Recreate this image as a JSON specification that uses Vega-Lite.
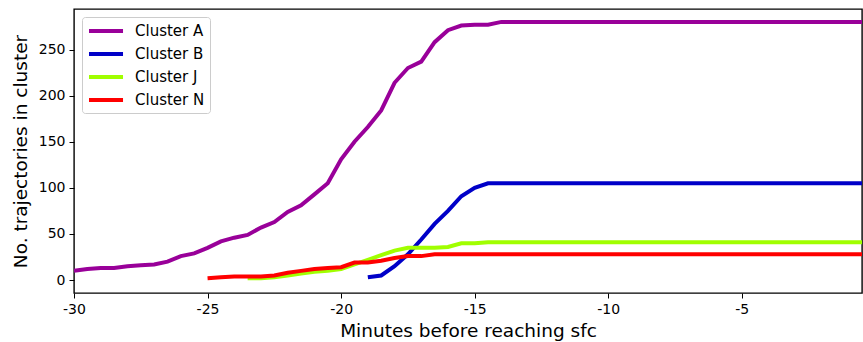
{
  "$schema": "https://vega.github.io/schema/vega-lite/v6.json",
  "width": 788,
  "height": 284,
  "autosize": {"type": "none"},
  "padding": {"left": 74, "top": 9, "right": 1, "bottom": 49},
  "config": {
    "font": "DejaVu Sans",
    "view": {"stroke": "black", "strokeWidth": 1.4},
    "axis": {
      "grid": false,
      "domain": false,
      "labelFlush": false,
      "tickColor": "black",
      "tickSize": 5,
      "tickWidth": 1,
      "labelColor": "black",
      "labelFontSize": 14,
      "labelFont": "DejaVu Sans",
      "titleFont": "DejaVu Sans",
      "titleFontSize": 18.5,
      "titleFontWeight": "normal",
      "titleColor": "black"
    }
  },
  "data": {
    "values": [
      {"t": -30, "n": 10, "c": "Cluster A"},
      {"t": -29.5, "n": 12, "c": "Cluster A"},
      {"t": -29, "n": 13, "c": "Cluster A"},
      {"t": -28.5, "n": 13, "c": "Cluster A"},
      {"t": -28, "n": 15, "c": "Cluster A"},
      {"t": -27.5, "n": 16, "c": "Cluster A"},
      {"t": -27, "n": 17, "c": "Cluster A"},
      {"t": -26.5, "n": 20, "c": "Cluster A"},
      {"t": -26, "n": 26, "c": "Cluster A"},
      {"t": -25.5, "n": 29, "c": "Cluster A"},
      {"t": -25, "n": 35, "c": "Cluster A"},
      {"t": -24.5, "n": 42, "c": "Cluster A"},
      {"t": -24, "n": 46, "c": "Cluster A"},
      {"t": -23.5, "n": 49, "c": "Cluster A"},
      {"t": -23, "n": 57, "c": "Cluster A"},
      {"t": -22.5, "n": 63, "c": "Cluster A"},
      {"t": -22, "n": 74, "c": "Cluster A"},
      {"t": -21.5, "n": 81, "c": "Cluster A"},
      {"t": -21, "n": 93, "c": "Cluster A"},
      {"t": -20.5, "n": 105, "c": "Cluster A"},
      {"t": -20, "n": 131, "c": "Cluster A"},
      {"t": -19.5, "n": 150, "c": "Cluster A"},
      {"t": -19, "n": 166, "c": "Cluster A"},
      {"t": -18.5, "n": 184, "c": "Cluster A"},
      {"t": -18, "n": 214, "c": "Cluster A"},
      {"t": -17.5, "n": 230, "c": "Cluster A"},
      {"t": -17, "n": 237, "c": "Cluster A"},
      {"t": -16.5, "n": 258, "c": "Cluster A"},
      {"t": -16, "n": 271, "c": "Cluster A"},
      {"t": -15.5, "n": 276, "c": "Cluster A"},
      {"t": -15, "n": 277, "c": "Cluster A"},
      {"t": -14.5, "n": 277, "c": "Cluster A"},
      {"t": -14, "n": 280, "c": "Cluster A"},
      {"t": -0.5, "n": 280, "c": "Cluster A"},
      {"t": -19, "n": 3, "c": "Cluster B"},
      {"t": -18.5, "n": 5, "c": "Cluster B"},
      {"t": -18, "n": 15, "c": "Cluster B"},
      {"t": -17.5, "n": 28, "c": "Cluster B"},
      {"t": -17, "n": 44, "c": "Cluster B"},
      {"t": -16.5, "n": 61, "c": "Cluster B"},
      {"t": -16, "n": 75, "c": "Cluster B"},
      {"t": -15.5, "n": 91, "c": "Cluster B"},
      {"t": -15, "n": 100, "c": "Cluster B"},
      {"t": -14.5, "n": 105, "c": "Cluster B"},
      {"t": -0.5, "n": 105, "c": "Cluster B"},
      {"t": -23.5, "n": 2, "c": "Cluster J"},
      {"t": -23, "n": 2, "c": "Cluster J"},
      {"t": -22.5, "n": 3, "c": "Cluster J"},
      {"t": -22, "n": 5, "c": "Cluster J"},
      {"t": -21.5, "n": 7, "c": "Cluster J"},
      {"t": -21, "n": 9, "c": "Cluster J"},
      {"t": -20.5, "n": 10, "c": "Cluster J"},
      {"t": -20, "n": 12, "c": "Cluster J"},
      {"t": -19.5, "n": 17, "c": "Cluster J"},
      {"t": -19, "n": 22, "c": "Cluster J"},
      {"t": -18.5, "n": 27, "c": "Cluster J"},
      {"t": -18, "n": 32, "c": "Cluster J"},
      {"t": -17.5, "n": 35, "c": "Cluster J"},
      {"t": -17, "n": 35, "c": "Cluster J"},
      {"t": -16.5, "n": 35, "c": "Cluster J"},
      {"t": -16, "n": 36, "c": "Cluster J"},
      {"t": -15.5, "n": 40, "c": "Cluster J"},
      {"t": -15, "n": 40, "c": "Cluster J"},
      {"t": -14.5, "n": 41, "c": "Cluster J"},
      {"t": -0.5, "n": 41, "c": "Cluster J"},
      {"t": -25, "n": 2, "c": "Cluster N"},
      {"t": -24.5, "n": 3, "c": "Cluster N"},
      {"t": -24, "n": 4, "c": "Cluster N"},
      {"t": -23.5, "n": 4, "c": "Cluster N"},
      {"t": -23, "n": 4, "c": "Cluster N"},
      {"t": -22.5, "n": 5, "c": "Cluster N"},
      {"t": -22, "n": 8, "c": "Cluster N"},
      {"t": -21.5, "n": 10, "c": "Cluster N"},
      {"t": -21, "n": 12, "c": "Cluster N"},
      {"t": -20.5, "n": 13, "c": "Cluster N"},
      {"t": -20, "n": 14, "c": "Cluster N"},
      {"t": -19.5, "n": 19, "c": "Cluster N"},
      {"t": -19, "n": 19, "c": "Cluster N"},
      {"t": -18.5, "n": 21, "c": "Cluster N"},
      {"t": -18, "n": 24, "c": "Cluster N"},
      {"t": -17.5, "n": 26, "c": "Cluster N"},
      {"t": -17, "n": 26, "c": "Cluster N"},
      {"t": -16.5, "n": 28, "c": "Cluster N"},
      {"t": -0.5, "n": 28, "c": "Cluster N"}
    ]
  },
  "mark": {"type": "line", "strokeWidth": 4, "clip": true},
  "encoding": {
    "x": {
      "field": "t",
      "type": "quantitative",
      "scale": {"domain": [-30, -0.5], "nice": false, "zero": false},
      "axis": {
        "title": "Minutes before reaching sfc",
        "values": [-30, -25, -20, -15, -10, -5],
        "labelExpr": "'' + datum.value",
        "labelPadding": 4,
        "titlePadding": 5
      }
    },
    "y": {
      "field": "n",
      "type": "quantitative",
      "scale": {"domain": [-14, 294], "nice": false, "zero": false},
      "axis": {
        "title": "No. trajectories in cluster",
        "values": [0, 50, 100, 150, 200, 250],
        "labelPadding": 4,
        "titlePadding": 8
      }
    },
    "color": {
      "field": "c",
      "type": "nominal",
      "scale": {
        "domain": ["Cluster A", "Cluster B", "Cluster J", "Cluster N"],
        "range": ["#990099", "#0000c8", "#a0ff00", "#ff0000"]
      },
      "legend": {
        "title": null,
        "orient": "top-left",
        "offset": 8,
        "symbolType": "M-1,0H3.86",
        "symbolSize": 196,
        "symbolStrokeWidth": 4,
        "labelFontSize": 15,
        "labelColor": "black",
        "labelFont": "DejaVu Sans",
        "labelOffset": 30,
        "rowPadding": 6,
        "padding": 5,
        "fillColor": "white",
        "strokeColor": "#cccccc",
        "cornerRadius": 3
      }
    }
  }
}
